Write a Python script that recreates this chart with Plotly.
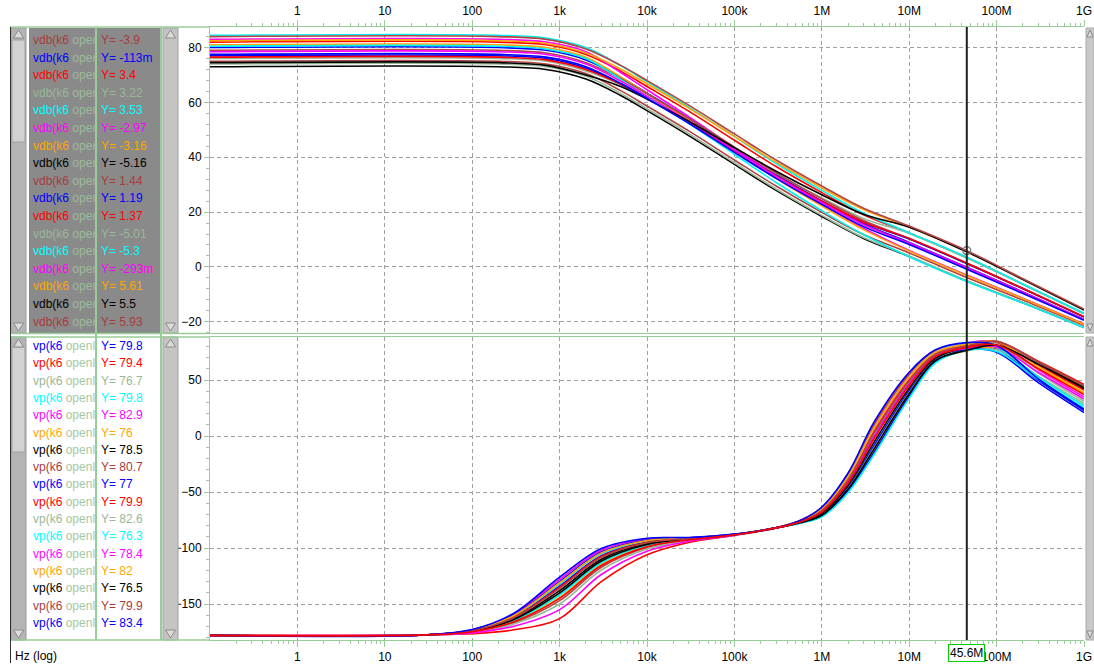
import math
import plotly.graph_objects as go

# ---------------- data ----------------
mag_freq = [0.1, 200, 700, 2e3, 5e3, 1e4, 3e4, 1e5, 3e5, 1e6, 3e6, 1e7, 45.6e6, 2e8, 1e9]
mag_runs = [
    [75, 75, 74, 70.5, 64.3, 58.7, 49.6, 39.0, 29.5, 19.9, 11.8, 5.1, -3.9, -12.1, -21.3],
    [80, 80, 79, 75.5, 69.1, 63.4, 54.2, 43.4, 33.7, 24.0, 15.8, 8.9, -0.113, -9.1, -19.1],
    [82, 82, 81, 77.5, 71.4, 65.8, 56.8, 46.2, 36.6, 27.1, 19.0, 12.4, 3.4, -6.3, -17.0],
    [76, 76, 75, 71.5, 66.5, 61.6, 53.1, 43.1, 34.1, 25.2, 17.7, 12.2, 3.22, -6.4, -17.1],
    [84.5, 84.5, 83.5, 80, 73.4, 67.6, 58.3, 47.5, 37.7, 27.9, 19.6, 12.5, 3.53, -6.2, -16.9],
    [83, 83, 82, 78.5, 70.9, 64.6, 54.8, 43.5, 33.2, 22.9, 14.1, 6.0, -2.97, -11.4, -20.8],
    [81, 81, 80, 76.5, 69.3, 63.2, 53.5, 42.4, 32.3, 22.2, 13.6, 5.8, -3.16, -11.5, -20.9],
    [73, 73, 72, 68.5, 62.5, 57.0, 47.9, 37.4, 27.9, 18.4, 10.4, 3.8, -5.16, -13.1, -22.1],
    [79, 79, 78, 74.5, 68.6, 63.1, 54.2, 43.7, 34.3, 24.8, 16.9, 10.4, 1.44, -7.8, -18.1],
    [77, 77, 76, 72.5, 66.9, 61.7, 52.9, 42.6, 33.3, 24.0, 16.3, 10.2, 1.19, -8.0, -18.3],
    [76.5, 76.5, 75.5, 72, 66.6, 61.4, 52.7, 42.4, 33.2, 24.0, 16.3, 10.4, 1.37, -7.9, -18.2],
    [74, 74, 73, 69.5, 63.3, 57.7, 48.6, 38.0, 28.4, 18.8, 10.7, 4.0, -5.01, -13.0, -22.0],
    [80.5, 80.5, 79.5, 76, 68.4, 62.2, 52.4, 41.1, 30.8, 20.5, 11.8, 3.7, -5.3, -13.2, -22.2],
    [78.5, 78.5, 77.5, 74, 67.8, 62.3, 53.2, 42.6, 33.0, 23.4, 15.4, 8.7, -0.293, -9.2, -19.2],
    [82.5, 82.5, 81.5, 78, 72.2, 66.8, 57.9, 47.6, 38.2, 28.8, 20.9, 14.6, 5.61, -4.5, -15.6],
    [74.5, 74.5, 73.5, 70, 65.8, 61.2, 53.1, 43.5, 34.9, 26.3, 19.2, 14.5, 5.5, -4.6, -15.7],
    [84, 84, 83, 79.5, 73.5, 68.0, 59.0, 48.5, 39.0, 29.5, 21.4, 14.9, 5.93, -4.3, -15.4],
    [77.5, 77.5, 76.5, 73, 66.9, 61.4, 52.4, 41.8, 32.3, 22.8, 14.7, 8.2, -0.828, -9.7, -19.5],
]
mag_labels = ["-3.9", "-113m", "3.4", "3.22", "3.53", "-2.97", "-3.16", "-5.16", "1.44",
              "1.19", "1.37", "-5.01", "-5.3", "-293m", "5.61", "5.5", "5.93"]

phase_freq = [0.1, 30, 100, 300, 1e3, 3e3, 1e4, 3e4, 1e5, 3e5, 6e5, 1e6, 2e6, 4e6, 1e7, 2e7,
              45.6e6, 1e8, 3e8, 1e9]
phase_runs = [
    [-178, -177.5, -173.6, -161.4, -134, -106.8, -94.4, -91.5, -87.9, -82, -76.6, -69.8, -45.6, -8, 40.2, 68.6, 79.8, 77.6, 49.7, 23],
    [-178, -177.5, -176.5, -173, -163, -130, -106, -95, -88.8, -82, -74.6, -63.8, -33.6, 12, 56.2, 76.6, 79.4, 84.2, 66.8, 46],
    [-178, -177.5, -174.3, -164.2, -141, -112.4, -97.2, -92.4, -88.1, -82, -76.8, -70.4, -46.8, -10, 38.6, 67.8, 76.7, 77.0, 53.5, 29],
    [-178, -177.5, -173.4, -160.6, -132, -105.2, -93.6, -91.3, -87.8, -82, -75.7, -67.1, -40.2, 1, 47.4, 72.2, 79.8, 78.8, 52.7, 27],
    [-178, -177.5, -173, -159, -128, -102, -92, -90.8, -87.7, -82, -75.2, -65.6, -37.2, 6, 51.4, 74.2, 82.9, 83.7, 59.3, 35],
    [-178, -177.5, -174.6, -165.4, -144, -114.8, -98.4, -92.7, -88.2, -82, -77, -71, -48, -12, 37, 67, 76, 79.1, 60.2, 38],
    [-178, -177.5, -174, -163, -138, -110, -96, -92, -88, -82, -76.3, -68.9, -43.8, -5, 42.6, 69.8, 78.5, 82.3, 63.7, 42],
    [-178, -177.5, -174.9, -166.6, -147, -117.2, -99.6, -93.1, -88.3, -82, -74.8, -64.4, -34.8, 10, 54.6, 75.8, 80.7, 84.7, 65.6, 44],
    [-178, -177.5, -173.2, -159.8, -130, -103.6, -92.8, -91, -87.8, -82, -77.2, -71.6, -49.2, -14, 35.4, 66.2, 77, 74.8, 47.6, 21],
    [-178, -177.5, -173.7, -161.8, -135, -107.6, -94.8, -91.6, -87.9, -82, -75.4, -66.2, -38.4, 4, 49.8, 73.4, 79.9, 83.1, 63.2, 41],
    [-178, -177.5, -175.2, -167.8, -150, -119.6, -100.8, -93.4, -88.4, -82, -75, -65, -36, 8, 53, 75, 82.6, 82.3, 56.2, 31],
    [-178, -177.5, -174.4, -164.6, -142, -113.2, -97.6, -92.5, -88.1, -82, -77.4, -72.2, -50.4, -16, 33.8, 65.4, 76.3, 75.4, 50.5, 25],
    [-178, -177.5, -175.7, -169.8, -155, -123.6, -102.8, -94, -88.5, -82, -75.8, -67.4, -40.8, 0, 46.6, 71.8, 78.4, 79.5, 56.9, 33],
    [-178, -177.5, -173.3, -160.2, -131, -104.4, -93.2, -91.2, -87.8, -82, -75.1, -65.3, -36.6, 7, 52.2, 74.6, 82, 84.2, 62.1, 39],
    [-178, -177.5, -174.2, -163.8, -140, -111.6, -96.8, -92.2, -88.1, -82, -76.9, -70.7, -47.4, -11, 37.8, 67.4, 76.5, 81, 64, 43],
    [-178, -177.5, -173.8, -162.2, -136, -108.4, -95.2, -91.8, -87.9, -82, -75.5, -66.5, -39, 3, 49, 73, 79.9, 84.3, 66.2, 45],
    [-178, -177.5, -172.8, -158.2, -126, -100.4, -91.2, -90.6, -87.6, -82, -74.5, -63.5, -33, 13, 57, 77, 83.4, 80.8, 51.1, 24],
    [-178, -177.5, -174.7, -165.8, -145, -115.6, -98.8, -92.8, -88.2, -82, -76, -68, -42, -2, 45, 71, 79.1, 81.3, 60, 37],
]
phase_labels = ["79.8", "79.4", "76.7", "79.8", "82.9", "76", "78.5", "80.7", "77", "79.9",
                "82.6", "76.3", "78.4", "82", "76.5", "79.9", "83.4"]

tick_vals = [1, 10, 100, 1e3, 1e4, 1e5, 1e6, 1e7, 1e8, 1e9]
tick_text = ["1", "10", "100", "1k", "10k", "100k", "1M", "10M", "100M", "1G"]
cursor_freq = 45.6e6
cursor_text = "45.6M"
x_unit = "Hz (log)"

palette = ["#b04444", "#0000ff", "#ff0000", "#98b898", "#00f0f0", "#ff00ff", "#ffa500", "#000000"]
legend_txt = ["#a83c3c", "#0000ff", "#ff0000", "#98b898", "#00ffff", "#ff00ff", "#ffa500", "#000000"]

# ---------------- geometry helpers ----------------
W, H = 1094, 668
L, R, T, B = 210, 1084, 27, 640
GREEN = "#98cc98"
GRID = "#a0a0a0"


def px(xp):
    return (xp - L) / (R - L)


def py(yp):
    return (B - yp) / (B - T)


fig = go.Figure()

for i, run in enumerate(mag_runs):
    fig.add_trace(go.Scatter(x=mag_freq, y=run, mode="lines", xaxis="x", yaxis="y",
                             line=dict(color=palette[i % 8], width=1.6, shape="spline", smoothing=1.0),
                             hoverinfo="skip", showlegend=False))
for i, run in enumerate(phase_runs):
    fig.add_trace(go.Scatter(x=phase_freq, y=run, mode="lines", xaxis="x2", yaxis="y2",
                             line=dict(color=palette[(i + 1) % 8], width=1.6, shape="spline", smoothing=1.0),
                             hoverinfo="skip", showlegend=False))

fig.add_trace(go.Scatter(x=[cursor_freq], y=[mag_runs[16][12]], mode="markers", xaxis="x", yaxis="y",
                         marker=dict(symbol="circle-open", size=8, color="#707070", line=dict(width=1.2)),
                         hoverinfo="skip", showlegend=False))

minor_vals = [m * 10 ** e for e in range(-1, 9) for m in range(2, 10)]

xcommon = dict(type="log", range=[-1, 9], domain=[0, 1], tickvals=tick_vals, ticktext=tick_text,
               showline=True, linecolor=GREEN, linewidth=1, mirror=True, automargin=False,
               ticks="outside", ticklen=6, tickcolor=GREEN, tickwidth=1,
               showgrid=True, gridcolor=GRID, griddash="4px,3px", gridwidth=1,
               minor=dict(tickvals=minor_vals, ticks="outside", ticklen=3, tickcolor=GREEN, showgrid=False),
               tickfont=dict(size=12, color="black"), zeroline=False, fixedrange=True)
ycommon = dict(showline=True, linecolor=GREEN, linewidth=1, ticks="outside", ticklen=5, automargin=False,
               tickcolor=GREEN, showgrid=True, gridcolor=GRID, griddash="4px,3px", gridwidth=1,
               zeroline=False, tickfont=dict(size=12, color="black"), tick0=0, fixedrange=True)

shapes = []


def rect(x0, y0, x1, y1, fill, line=None, lw=0):
    shapes.append(dict(type="rect", xref="paper", yref="paper", x0=px(x0), x1=px(x1), y0=py(y1), y1=py(y0),
                       fillcolor=fill, line=dict(color=line or fill, width=lw), layer="above"))


def seg(x0, y0, x1, y1, color, w=1):
    shapes.append(dict(type="line", xref="paper", yref="paper", x0=px(x0), x1=px(x1), y0=py(y0), y1=py(y1),
                       line=dict(color=color, width=w), layer="above"))


def tri(cx, tip, base, half):
    p = f"M {px(cx - half)},{py(base)} L {px(cx + half)},{py(base)} L {px(cx)},{py(tip)} Z"
    shapes.append(dict(type="path", xref="paper", yref="paper", path=p, fillcolor="#dcdcdc",
                       line=dict(color="#8a8a8a", width=1), layer="above"))


# left legend background (top panel is grey)
rect(29, 28, 161, 333, "#8a8a8a")
# scrollbars
for (y0, y1, th0, th1) in [(28, 333, 40, 142), (337, 640, 347, 452)]:
    rect(11, y0, 26, y1, "#b4b4b4", "#9a9a9a", 1)
    rect(12, th0, 25, th1, "#d2d2d2", "#a0a0a0", 1)
    tri(18.5, y0 + 2, y0 + 10, 5)
    tri(18.5, y1 - 2, y1 - 10, 5)
    rect(163, y0, 178, y1, "#c4c4c4", "#a0a0a0", 1)
    tri(170.5, y0 + 2, y0 + 10, 5)
    tri(170.5, y1 - 2, y1 - 10, 5)
    rect(1086, y0, 1094, y1, "#c8c8c8", "#a8a8a8", 1)
    tri(1090, y0 + 2, y0 + 9, 3)
    tri(1090, y1 - 2, y1 - 9, 3)

# green separators
seg(96, 27, 96, 640, GREEN, 2)
seg(161, 27, 161, 640, GREEN, 2)
for yy in [27, 333.5, 337, 640]:
    seg(10, yy, L, yy, GREEN, 1.5)
seg(10.5, 27, 10.5, 663, "#303030", 1)

# cursor
cx = (math.log10(cursor_freq) + 1) / 10
shapes.append(dict(type="line", xref="paper", yref="paper", x0=cx, x1=cx, y0=0, y1=1,
                   line=dict(color="#202020", width=2), layer="above"))

annotations = []
for i, lab in enumerate(mag_labels):
    c = legend_txt[i % 8]
    yy = py(40 + 17.6 * i)
    annotations.append(dict(xref="paper", yref="paper", x=px(31), y=yy, xanchor="left", yanchor="middle",
                            showarrow=False, font=dict(size=12, color=c),
                            text='vdb(k6 <span style="color:#9cbc9c">oper</span>'))
    annotations.append(dict(xref="paper", yref="paper", x=px(99), y=yy, xanchor="left", yanchor="middle",
                            showarrow=False, font=dict(size=12, color=c), text=f"Y= {lab}"))
for i, lab in enumerate(phase_labels):
    c = legend_txt[(i + 1) % 8]
    yy = py(346 + 17.3 * i)
    annotations.append(dict(xref="paper", yref="paper", x=px(31), y=yy, xanchor="left", yanchor="middle",
                            showarrow=False, font=dict(size=12, color=c),
                            text='vp(k6 <span style="color:#a4c8a4">openl</span>'))
    annotations.append(dict(xref="paper", yref="paper", x=px(99), y=yy, xanchor="left", yanchor="middle",
                            showarrow=False, font=dict(size=12, color=c), text=f"Y= {lab}"))

annotations.append(dict(xref="paper", yref="paper", x=px(13), y=py(656), xanchor="left", yanchor="middle",
                        showarrow=False, font=dict(size=12, color="black"), text=x_unit))
annotations.append(dict(xref="x2", yref="paper", x=math.log10(cursor_freq), y=py(653), xanchor="center",
                        yanchor="middle", showarrow=False, font=dict(size=12, color="black"),
                        text=cursor_text, bgcolor="white", bordercolor="#00d000", borderwidth=1, borderpad=1))

fig.update_layout(
    width=W, height=H, autosize=False,
    margin=dict(l=L, r=W - R, t=T, b=H - B, pad=0, autoexpand=False),
    paper_bgcolor="white", plot_bgcolor="white",
    font=dict(family="Liberation Sans, Arial, sans-serif", size=12, color="black"),
    xaxis=dict(xcommon, anchor="y", side="top"),
    xaxis2=dict(xcommon, anchor="y2", side="bottom"),
    yaxis=dict(ycommon, range=[-24.1, 87.5], domain=[py(333), 1], anchor="x", dtick=20,
               minor=dict(dtick=4, tick0=0, ticks="outside", ticklen=3, tickcolor=GREEN, showgrid=False)),
    yaxis2=dict(ycommon, range=[-182.1, 88.4], domain=[0, py(337)], anchor="x2", dtick=50,
                minor=dict(dtick=10, tick0=0, ticks="outside", ticklen=3, tickcolor=GREEN, showgrid=False)),
    shapes=shapes, annotations=annotations, showlegend=False,
)

fig.write_html("out.html", config={"displayModeBar": False},
               post_script="document.body.style.margin='0';document.body.style.overflow='hidden';")
